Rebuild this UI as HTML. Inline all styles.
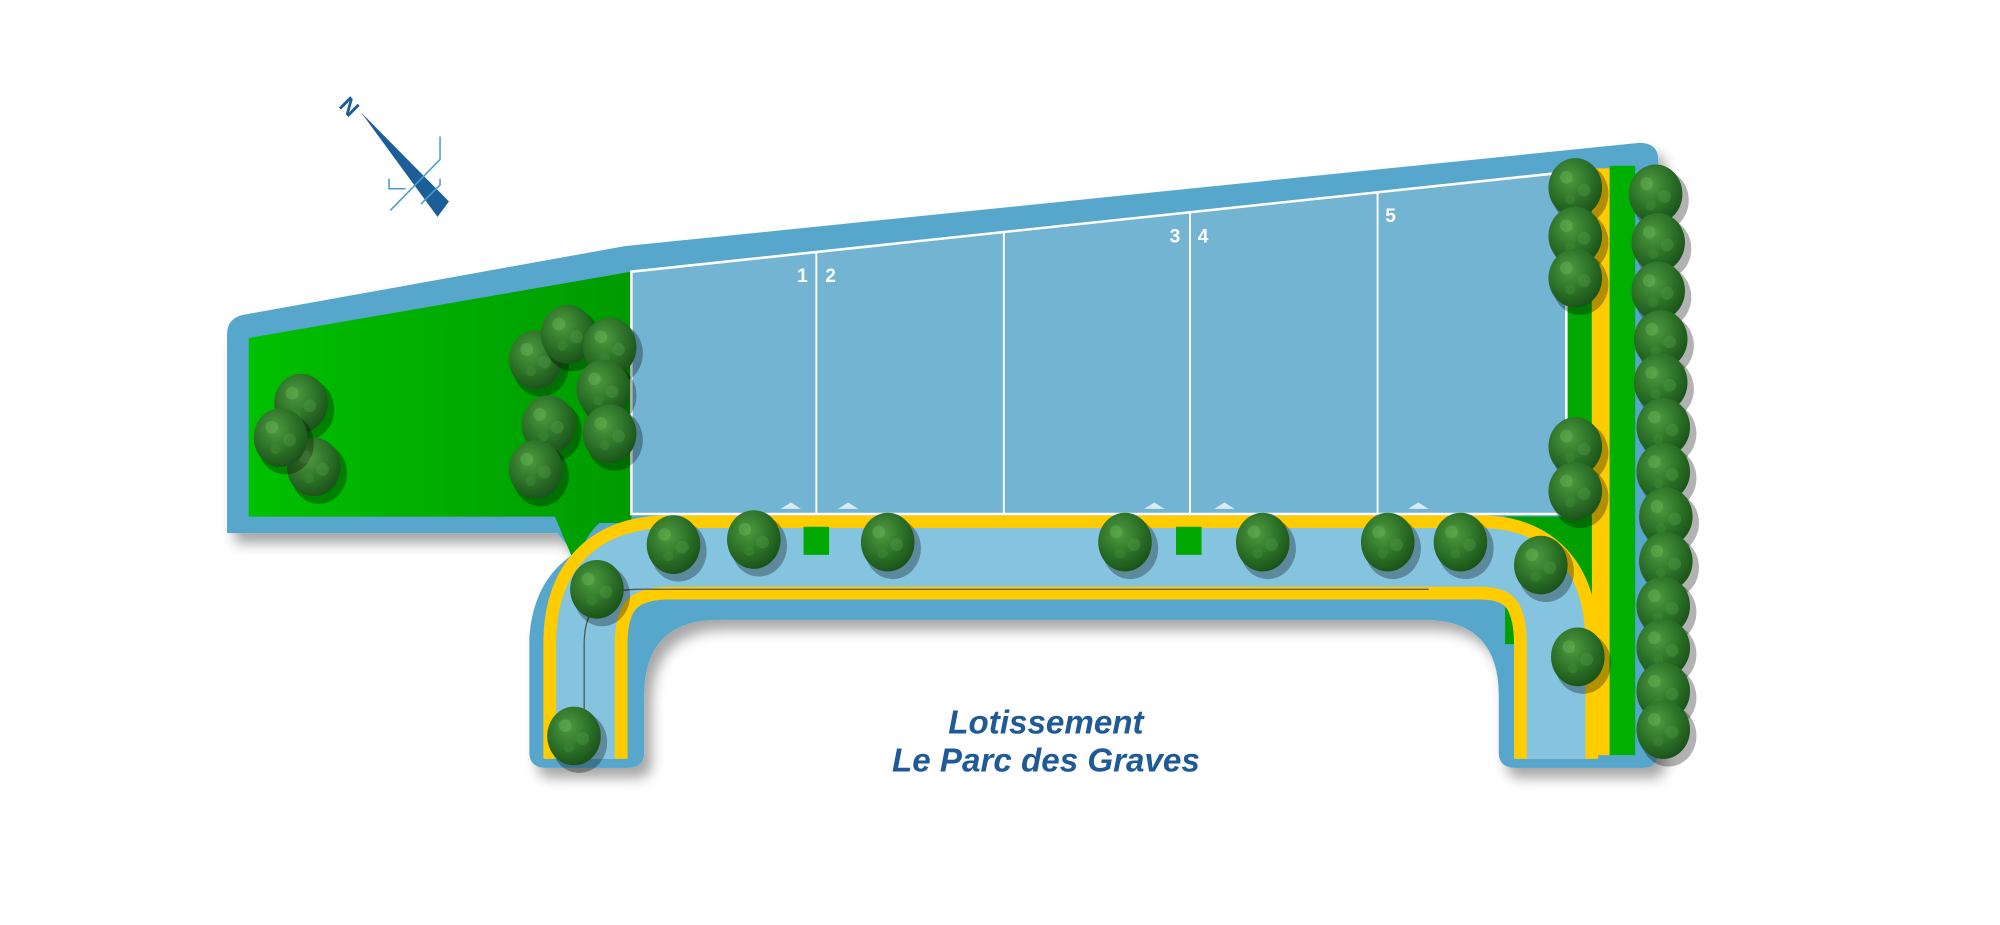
<!DOCTYPE html>
<html><head><meta charset="utf-8"><style>
html,body{margin:0;padding:0;background:#fff;}
svg{display:block}
</style></head><body>
<svg width="2000" height="925" viewBox="0 0 1568 725.2" xmlns="http://www.w3.org/2000/svg">
<defs>
<filter id="sh" x="-10%" y="-10%" width="130%" height="130%"><feDropShadow dx="6" dy="8" stdDeviation="5" flood-color="#000" flood-opacity="0.35"/></filter>
<linearGradient id="gl" x1="0" x2="1" y1="0" y2="0"><stop offset="0" stop-color="#00c000"/><stop offset="1" stop-color="#009a00"/></linearGradient>
<radialGradient id="tr" cx="0.4" cy="0.35" r="0.7"><stop offset="0" stop-color="#4f9a40"/><stop offset="0.6" stop-color="#2a6e26"/><stop offset="1" stop-color="#184f18"/></radialGradient>
<g id="t"><ellipse cx="4" cy="5" rx="22" ry="24" fill="#000" opacity="0.3"/><ellipse cx="0" cy="0" rx="21" ry="23" fill="url(#tr)"/><circle cx="-7" cy="-8" r="5" fill="#6cb85a" opacity="0.4"/><circle cx="7" cy="2" r="5" fill="#4f9a44" opacity="0.4"/><circle cx="-4" cy="9" r="4" fill="#3d8a35" opacity="0.5"/></g>
</defs>
<!-- outer blue -->
<path filter="url(#sh)" fill="#57a7cb" d="M178,262 Q178,250 190,247 L490,193 L1285,112 Q1300,112 1300,125 L1300,590 Q1300,602 1288,602 L1188,602 Q1175,602 1175,590 L1175,545 Q1175,488 1120,486 L560,486 Q505,488 505,545 L505,590 Q505,602 492,602 L428,602 Q415,602 415,590 L415,500 Q418,455 450,434 L437,418 L178,418 Z"/>
<!-- left green -->
<path fill="url(#gl)" d="M195,265 L495,213 L495,410 L470,410 Q456,422 452,445 L435,405 L195,405 Z"/>
<!-- right strips -->
<rect x="1228" y="132" width="20" height="460" fill="#00a800"/>
<rect x="1248" y="132" width="14" height="460" fill="#ffcc00"/>
<rect x="1262" y="130" width="20" height="462" fill="#00b000"/>
<rect x="1180" y="405" width="68" height="100" fill="#00a000"/>
<!-- road -->
<path d="M459,595 L459,505 Q459,437 525,437 L1160,437 Q1220,437 1220,505 L1220,595" fill="none" stroke="#ffcc00" stroke-width="66"/>
<path d="M459,595 L459,505 Q459,437 525,437 L1160,437 Q1220,437 1220,505 L1220,595" fill="none" stroke="#85c4df" stroke-width="46"/>
<path d="M458,590 L458,505 Q458,462 500,462 L1120,462" fill="none" stroke="#555" stroke-width="1"/>
<rect x="630" y="413" width="20" height="22" fill="#00a800"/>
<rect x="922" y="413" width="20" height="22" fill="#00a800"/>
<!-- lots -->
<path d="M495,213 L1228,135 L1228,403 L495,403 Z" fill="#72b4d1" stroke="#fff" stroke-width="2"/>
<g stroke="#fff" stroke-width="1.5">
<line x1="640" y1="198" x2="640" y2="403"/><line x1="787" y1="182" x2="787" y2="403"/><line x1="933" y1="166" x2="933" y2="403"/><line x1="1080" y1="151" x2="1080" y2="403"/>
</g>
<g fill="#d8ecf5"><path d="M612,399 L620,394 L628,399Z"/><path d="M657,399 L665,394 L673,399Z"/><path d="M897,399 L905,394 L913,399Z"/><path d="M952,399 L960,394 L968,399Z"/><path d="M1104,399 L1112,394 L1120,399Z"/></g>
<g fill="#fff" font-family="Liberation Sans, sans-serif" font-weight="bold" font-size="15">
<text x="625" y="221">1</text><text x="647" y="221">2</text><text x="917" y="190">3</text><text x="939" y="190">4</text><text x="1086" y="174">5</text>
</g>
<!-- trees -->
<g>
<use href="#t" x="236" y="316"/><use href="#t" x="246" y="366"/><use href="#t" x="220" y="343"/>
<use href="#t" x="420" y="282"/><use href="#t" x="445" y="262"/><use href="#t" x="478" y="272"/><use href="#t" x="473" y="305"/><use href="#t" x="430" y="333"/><use href="#t" x="478" y="340"/><use href="#t" x="420" y="368"/>
<use href="#t" x="468" y="462"/><use href="#t" x="528" y="427"/><use href="#t" x="591" y="423"/><use href="#t" x="696" y="425"/><use href="#t" x="882" y="425"/><use href="#t" x="990" y="425"/><use href="#t" x="1088" y="425"/><use href="#t" x="1145" y="425"/><use href="#t" x="1208" y="443"/><use href="#t" x="1237" y="515"/><use href="#t" x="450" y="577"/>
<use href="#t" x="1235" y="147"/><use href="#t" x="1235" y="185"/><use href="#t" x="1235" y="218"/><use href="#t" x="1235" y="350"/><use href="#t" x="1235" y="385"/>
<use href="#t" x="1298" y="152"/><use href="#t" x="1300" y="190"/><use href="#t" x="1300" y="228"/><use href="#t" x="1302" y="266"/><use href="#t" x="1302" y="300"/><use href="#t" x="1304" y="335"/><use href="#t" x="1304" y="370"/><use href="#t" x="1306" y="405"/><use href="#t" x="1306" y="440"/><use href="#t" x="1304" y="475"/><use href="#t" x="1304" y="508"/><use href="#t" x="1304" y="542"/><use href="#t" x="1304" y="572"/>
</g>
<!-- compass -->
<g>
<path d="M283,88 L352,158 L343,170 Z" fill="#1b5e98"/>
<g stroke="#4d9acb" stroke-width="1.2" fill="none"><path d="M306,165 L345,125 L345,107"/><path d="M318,148 L305,148 L305,140"/><path d="M330,160 L345,145 L345,140"/></g>
<text x="268" y="88" font-family="Liberation Sans, sans-serif" font-weight="bold" font-size="18" fill="#1b5e98" transform="rotate(45 272 82)">N</text>
</g>
<g fill="#1f5a96" font-family="Liberation Sans, sans-serif" font-weight="bold" font-style="italic" font-size="26" text-anchor="middle">
<text x="820" y="575">Lotissement</text><text x="820" y="605">Le Parc des Graves</text>
</g>
</svg>
</body></html>
